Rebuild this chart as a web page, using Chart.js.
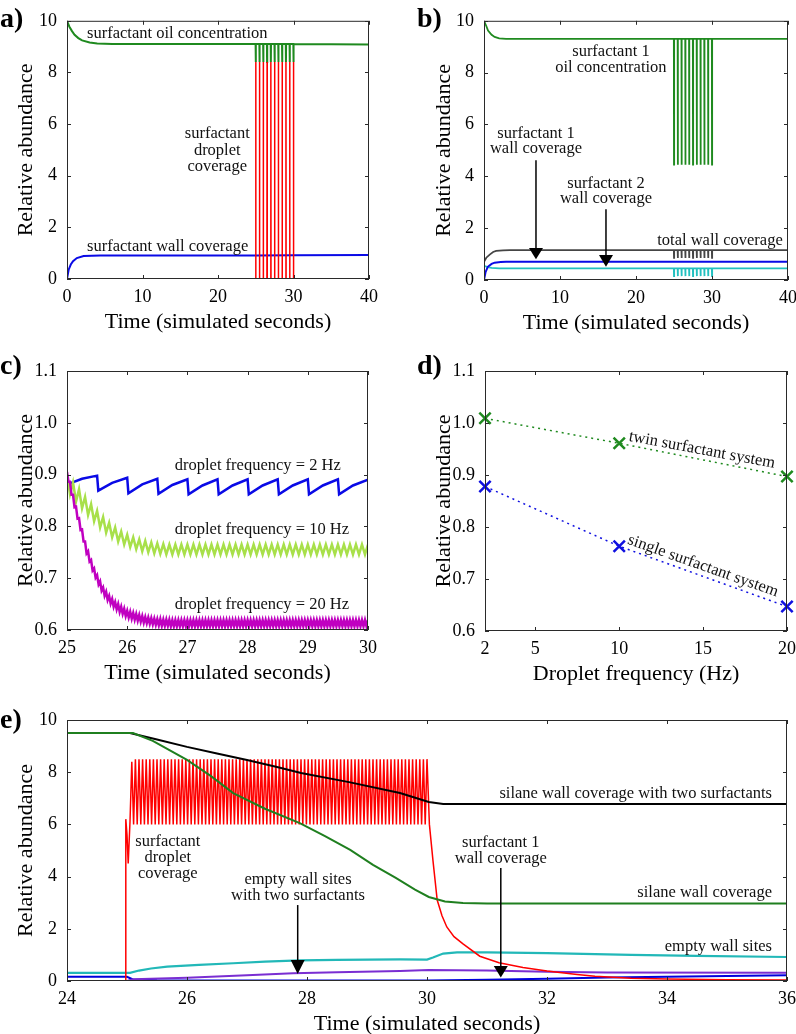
<!DOCTYPE html>
<html lang="en">
<head>
<meta charset="UTF-8">
<title>Surfactant coverage panels</title>
<script src="https://cdn.jsdelivr.net/npm/chart.js"></script>
<style>
  body { margin:0; width:796px; height:1034px; overflow:hidden; background:#fff; position:relative; }
  canvas { position:absolute; }
  .tag { position:absolute; font:bold 28px/28px "Liberation Serif", serif; color:#000; }
</style>
</head>
<body>
<canvas id="pa" width="400" height="339" style="left:0;top:0"></canvas>
<canvas id="pb" width="390" height="340" style="left:418px;top:0"></canvas>
<canvas id="pc" width="400" height="350" style="left:0;top:340px"></canvas>
<canvas id="pd" width="390" height="351" style="left:418px;top:340px"></canvas>
<canvas id="pe" width="808" height="351" style="left:0;top:690px"></canvas>
<div class="tag" style="left:0;top:4px">a)</div>
<div class="tag" style="left:417px;top:4px">b)</div>
<div class="tag" style="left:0;top:351px">c)</div>
<div class="tag" style="left:417px;top:351px">d)</div>
<div class="tag" style="left:0;top:705px">e)</div>
<script>
// ---- tick values ----
const ticks40 = [0, 10, 20, 30, 40];
const ticks10 = [0, 2, 4, 6, 8, 10];
const cTicksX = [25, 26, 27, 28, 29, 30];
const fracTicks = [0.6, 0.7, 0.8, 0.9, 1.0, 1.1];
const dTicksX = [2, 5, 10, 15, 20];
const eTicksX = [24, 26, 28, 30, 32, 34, 36];

// ---- a) single surfactant ----
const aOil = [[0,10],[0.3,9.78],[0.66,9.6],[1,9.46],[1.5,9.33],[2,9.24],[3,9.16],[4,9.12],[6,9.1],
  [24.98,9.1],[25,8.4],[25.02,9.1],[25.48,9.1],[25.5,8.4],[25.52,9.1],
  [25.98,9.1],[26,8.4],[26.02,9.1],[26.48,9.1],[26.5,8.4],[26.52,9.1],
  [26.98,9.1],[27,8.4],[27.02,9.1],[27.48,9.1],[27.5,8.4],[27.52,9.1],
  [27.98,9.1],[28,8.4],[28.02,9.1],[28.48,9.1],[28.5,8.4],[28.52,9.1],
  [28.98,9.1],[29,8.4],[29.02,9.1],[29.48,9.1],[29.5,8.4],[29.52,9.1],
  [29.98,9.1],[30,8.4],[30.02,9.1],[40,9.08]];
const aDrop = [[0,0],
  [24.98,0],[25,8.4],[25.02,0],[25.48,0],[25.5,8.4],[25.52,0],
  [25.98,0],[26,8.4],[26.02,0],[26.48,0],[26.5,8.4],[26.52,0],
  [26.98,0],[27,8.4],[27.02,0],[27.48,0],[27.5,8.4],[27.52,0],
  [27.98,0],[28,8.4],[28.02,0],[28.48,0],[28.5,8.4],[28.52,0],
  [28.98,0],[29,8.4],[29.02,0],[29.48,0],[29.5,8.4],[29.52,0],
  [29.98,0],[30,8.4],[30.02,0],[40,0]];
const aWall = [[0,0],[0.22,0.36],[0.5,0.56],[0.8,0.69],[1.3,0.81],[2.2,0.89],[4.4,0.91],[25,0.91],[30,0.92],[40,0.93]];

// ---- b) twin surfactant ----
const bOil = [[0,10],[0.3,9.8],[0.53,9.62],[1,9.46],[1.4,9.38],[2,9.32],[2.9,9.3],
  [24.98,9.3],[25,4.45],[25.02,9.3],[25.48,9.3],[25.5,4.45],[25.52,9.3],
  [25.98,9.3],[26,4.45],[26.02,9.3],[26.48,9.3],[26.5,4.45],[26.52,9.3],
  [26.98,9.3],[27,4.45],[27.02,9.3],[27.48,9.3],[27.5,4.45],[27.52,9.3],
  [27.98,9.3],[28,4.45],[28.02,9.3],[28.48,9.3],[28.5,4.45],[28.52,9.3],
  [28.98,9.3],[29,4.45],[29.02,9.3],[29.48,9.3],[29.5,4.45],[29.52,9.3],
  [29.98,9.3],[30,4.45],[30.02,9.3],[40,9.3]];
const bTotal = [[0,0.7],[0.3,0.86],[0.75,0.98],[1.2,1.08],[1.6,1.12],[2.5,1.14],[3.4,1.15],
  [24.98,1.15],[25,0.85],[25.02,1.15],[25.48,1.15],[25.5,0.85],[25.52,1.15],
  [25.98,1.15],[26,0.85],[26.02,1.15],[26.48,1.15],[26.5,0.85],[26.52,1.15],
  [26.98,1.15],[27,0.85],[27.02,1.15],[27.48,1.15],[27.5,0.85],[27.52,1.15],
  [27.98,1.15],[28,0.85],[28.02,1.15],[28.48,1.15],[28.5,0.85],[28.52,1.15],
  [28.98,1.15],[29,0.85],[29.02,1.15],[29.48,1.15],[29.5,0.85],[29.52,1.15],
  [29.98,1.15],[30,0.85],[30.02,1.15],[40,1.15]];
const bSurf1 = [[0,0],[0.2,0.3],[0.5,0.51],[1,0.62],[1.4,0.67],[2.2,0.69],[2.9,0.7],[40,0.7]];
const bSurf2 = [[0,0.55],[0.5,0.5],[1,0.47],[2,0.45],
  [24.98,0.45],[25,0.15],[25.02,0.45],[25.48,0.45],[25.5,0.15],[25.52,0.45],
  [25.98,0.45],[26,0.15],[26.02,0.45],[26.48,0.45],[26.5,0.15],[26.52,0.45],
  [26.98,0.45],[27,0.15],[27.02,0.45],[27.48,0.45],[27.5,0.15],[27.52,0.45],
  [27.98,0.45],[28,0.15],[28.02,0.45],[28.48,0.45],[28.5,0.15],[28.52,0.45],
  [28.98,0.45],[29,0.15],[29.02,0.45],[29.48,0.45],[29.5,0.15],[29.52,0.45],
  [29.98,0.45],[30,0.15],[30.02,0.45],[40,0.45]];

// ---- c) droplet frequency ----
const cHz2 = [[25.05,0.883],[25.25,0.892],[25.5,0.898],[25.52,0.869],[25.75,0.884],[26,0.894],[26.02,0.864],
  [26.25,0.881],[26.5,0.892],[26.52,0.863],[26.75,0.880],[27,0.891],[27.02,0.862],[27.25,0.879],
  [27.5,0.891],[27.52,0.862],[27.75,0.879],[28,0.891],[28.02,0.862],[28.25,0.879],[28.5,0.891],
  [28.52,0.862],[28.75,0.879],[29,0.891],[29.02,0.862],[29.25,0.879],[29.5,0.891],[29.52,0.862],
  [29.75,0.879],[30,0.890]];
const cHz10 = [[25,0.9],[25.05,0.862],[25.1,0.885],[25.15,0.848],[25.2,0.872],[25.25,0.835],[25.3,0.857],
  [25.35,0.822],[25.4,0.843],[25.45,0.81],[25.5,0.83],[25.55,0.798],[25.6,0.818],[25.65,0.788],
  [25.7,0.807],[25.75,0.779],[25.8,0.798],[25.85,0.771],[25.9,0.79],[25.95,0.765],[26,0.784],
  [26.05,0.76],[26.1,0.779],[26.15,0.756],[26.2,0.775],[26.25,0.752],[26.3,0.772],[26.35,0.75],
  [26.4,0.769],[26.45,0.748],[26.5,0.767],[26.55,0.747],[26.6,0.766],[26.65,0.746],[26.7,0.765],
  [26.75,0.746],[26.8,0.765],[26.85,0.746],[26.9,0.765],[26.95,0.746],[27,0.765],
  [27.05,0.746],[27.1,0.765],[27.15,0.746],[27.2,0.765],[27.25,0.746],[27.3,0.765],[27.35,0.746],[27.4,0.765],[27.45,0.746],[27.5,0.765],
  [27.55,0.746],[27.6,0.765],[27.65,0.746],[27.7,0.765],[27.75,0.746],[27.8,0.765],[27.85,0.746],[27.9,0.765],[27.95,0.746],[28,0.765],
  [28.05,0.746],[28.1,0.765],[28.15,0.746],[28.2,0.765],[28.25,0.746],[28.3,0.765],[28.35,0.746],[28.4,0.765],[28.45,0.746],[28.5,0.765],
  [28.55,0.746],[28.6,0.765],[28.65,0.746],[28.7,0.765],[28.75,0.746],[28.8,0.765],[28.85,0.746],[28.9,0.765],[28.95,0.746],[29,0.765],
  [29.05,0.746],[29.1,0.765],[29.15,0.746],[29.2,0.765],[29.25,0.746],[29.3,0.765],[29.35,0.746],[29.4,0.765],[29.45,0.746],[29.5,0.765],
  [29.55,0.746],[29.6,0.765],[29.65,0.746],[29.7,0.765],[29.75,0.746],[29.8,0.765],[29.85,0.746],[29.9,0.765],[29.95,0.746],[30,0.765]];
const cHz20 = [[25,0.905],[25.025,0.886],[25.05,0.886],[25.075,0.861],[25.1,0.861],[25.125,0.837],[25.15,0.838],
  [25.175,0.815],[25.2,0.816],[25.225,0.793],[25.25,0.794],[25.275,0.771],[25.3,0.771],[25.325,0.748],
  [25.35,0.752],[25.375,0.732],[25.4,0.735],[25.425,0.715],[25.45,0.719],[25.475,0.701],[25.5,0.706],
  [25.525,0.688],[25.55,0.694],[25.575,0.676],[25.6,0.682],[25.625,0.666],[25.65,0.674],[25.675,0.658],
  [25.7,0.666],[25.725,0.651],[25.75,0.66],[25.775,0.645],[25.8,0.654],[25.825,0.64],[25.85,0.65],
  [25.875,0.635],[25.9,0.645],[25.925,0.631],[25.95,0.641],[25.975,0.627],[26,0.637],[26.025,0.624],
  [26.05,0.635],[26.075,0.622],[26.1,0.633],[26.125,0.62],[26.15,0.631],[26.175,0.618],[26.2,0.629],
  [26.225,0.616],[26.25,0.627],[26.275,0.614],[26.3,0.625],[26.325,0.613],[26.35,0.624],[26.375,0.612],
  [26.4,0.623],[26.425,0.611],[26.45,0.622],[26.475,0.61],[26.5,0.621],[26.525,0.609],[26.55,0.621],
  [26.575,0.608],[26.6,0.62],[26.625,0.608],[26.65,0.62],[26.675,0.608],[26.7,0.62],[26.725,0.607],
  [26.75,0.619],[26.775,0.607],[26.8,0.619],[26.825,0.607],[26.85,0.619],[26.875,0.607],[26.9,0.619],
  [26.925,0.607],[26.95,0.619],[26.975,0.607],[27,0.619],
  [27.025,0.607],[27.05,0.619],[27.075,0.607],[27.1,0.619],[27.125,0.607],[27.15,0.619],[27.175,0.607],[27.2,0.619],
  [27.225,0.607],[27.25,0.619],[27.275,0.607],[27.3,0.619],[27.325,0.607],[27.35,0.619],[27.375,0.607],[27.4,0.619],
  [27.425,0.607],[27.45,0.619],[27.475,0.607],[27.5,0.619],[27.525,0.607],[27.55,0.619],[27.575,0.607],[27.6,0.619],
  [27.625,0.607],[27.65,0.619],[27.675,0.607],[27.7,0.619],[27.725,0.607],[27.75,0.619],[27.775,0.607],[27.8,0.619],
  [27.825,0.607],[27.85,0.619],[27.875,0.607],[27.9,0.619],[27.925,0.607],[27.95,0.619],[27.975,0.607],[28,0.619],
  [28.025,0.607],[28.05,0.619],[28.075,0.607],[28.1,0.619],[28.125,0.607],[28.15,0.619],[28.175,0.607],[28.2,0.619],
  [28.225,0.607],[28.25,0.619],[28.275,0.607],[28.3,0.619],[28.325,0.607],[28.35,0.619],[28.375,0.607],[28.4,0.619],
  [28.425,0.607],[28.45,0.619],[28.475,0.607],[28.5,0.619],[28.525,0.607],[28.55,0.619],[28.575,0.607],[28.6,0.619],
  [28.625,0.607],[28.65,0.619],[28.675,0.607],[28.7,0.619],[28.725,0.607],[28.75,0.619],[28.775,0.607],[28.8,0.619],
  [28.825,0.607],[28.85,0.619],[28.875,0.607],[28.9,0.619],[28.925,0.607],[28.95,0.619],[28.975,0.607],[29,0.619],
  [29.025,0.607],[29.05,0.619],[29.075,0.607],[29.1,0.619],[29.125,0.607],[29.15,0.619],[29.175,0.607],[29.2,0.619],
  [29.225,0.607],[29.25,0.619],[29.275,0.607],[29.3,0.619],[29.325,0.607],[29.35,0.619],[29.375,0.607],[29.4,0.619],
  [29.425,0.607],[29.45,0.619],[29.475,0.607],[29.5,0.619],[29.525,0.607],[29.55,0.619],[29.575,0.607],[29.6,0.619],
  [29.625,0.607],[29.65,0.619],[29.675,0.607],[29.7,0.619],[29.725,0.607],[29.75,0.619],[29.775,0.607],[29.8,0.619],
  [29.825,0.607],[29.85,0.619],[29.875,0.607],[29.9,0.619],[29.925,0.607],[29.95,0.619],[29.975,0.607],[30,0.619]];

// ---- d) steady-state wall coverage vs frequency ----
const dFreq = [2, 10, 20];
const dTwin = [1.009, 0.961, 0.897];
const dSingle = [0.878, 0.763, 0.647];

// ---- e) silane + two surfactants ----
const eRed = [[24,0],[24.97,0],[24.98,6.2],[25,5.6],[25.02,4.5],[25.05,6.1],[25.08,8.4],
  [25.11,6],[25.14,8.5],[25.17,6],[25.2,8.5],[25.23,6],[25.26,8.5],[25.29,6],[25.32,8.5],[25.35,6],[25.38,8.5],
  [25.41,6],[25.44,8.5],[25.47,6],[25.5,8.5],[25.53,6],[25.56,8.5],[25.59,6],[25.62,8.5],[25.65,6],[25.68,8.5],
  [25.71,6],[25.74,8.5],[25.77,6],[25.8,8.5],[25.83,6],[25.86,8.5],[25.89,6],[25.92,8.5],[25.95,6],[25.98,8.5],
  [26.01,6],[26.04,8.5],[26.07,6],[26.1,8.5],[26.13,6],[26.16,8.5],[26.19,6],[26.22,8.5],[26.25,6],[26.28,8.5],
  [26.31,6],[26.34,8.5],[26.37,6],[26.4,8.5],[26.43,6],[26.46,8.5],[26.49,6],[26.52,8.5],[26.55,6],[26.58,8.5],
  [26.61,6],[26.64,8.5],[26.67,6],[26.7,8.5],[26.73,6],[26.76,8.5],[26.79,6],[26.82,8.5],[26.85,6],[26.88,8.5],
  [26.91,6],[26.94,8.5],[26.97,6],[27,8.5],[27.03,6],[27.06,8.5],[27.09,6],[27.12,8.5],[27.15,6],[27.18,8.5],
  [27.21,6],[27.24,8.5],[27.27,6],[27.3,8.5],[27.33,6],[27.36,8.5],[27.39,6],[27.42,8.5],[27.45,6],[27.48,8.5],
  [27.51,6],[27.54,8.5],[27.57,6],[27.6,8.5],[27.63,6],[27.66,8.5],[27.69,6],[27.72,8.5],[27.75,6],[27.78,8.5],
  [27.81,6],[27.84,8.5],[27.87,6],[27.9,8.5],[27.93,6],[27.96,8.5],[27.99,6],[28.02,8.5],[28.05,6],[28.08,8.5],
  [28.11,6],[28.14,8.5],[28.17,6],[28.2,8.5],[28.23,6],[28.26,8.5],[28.29,6],[28.32,8.5],[28.35,6],[28.38,8.5],
  [28.41,6],[28.44,8.5],[28.47,6],[28.5,8.5],[28.53,6],[28.56,8.5],[28.59,6],[28.62,8.5],[28.65,6],[28.68,8.5],
  [28.71,6],[28.74,8.5],[28.77,6],[28.8,8.5],[28.83,6],[28.86,8.5],[28.89,6],[28.92,8.5],[28.95,6],[28.98,8.5],
  [29.01,6],[29.04,8.5],[29.07,6],[29.1,8.5],[29.13,6],[29.16,8.5],[29.19,6],[29.22,8.5],[29.25,6],[29.28,8.5],
  [29.31,6],[29.34,8.5],[29.37,6],[29.4,8.5],[29.43,6],[29.46,8.5],[29.49,6],[29.52,8.5],[29.55,6],[29.58,8.5],
  [29.61,6],[29.64,8.5],[29.67,6],[29.7,8.5],[29.73,6],[29.76,8.5],[29.79,6],[29.82,8.5],[29.85,6],[29.88,8.5],
  [29.91,6],[29.94,8.5],[29.97,6],[30,8.5],
  [30.04,6],[30.1,4.6],[30.17,3.1],[30.25,2.5],[30.33,2.07],[30.45,1.7],[30.6,1.42],[30.88,0.95],
  [31.2,0.7],[31.6,0.52],[32,0.38],[32.5,0.25],[32.8,0.18],[33.4,0.11],[34,0.08],[35,0.05],[36,0.04]];
const eSilaneTwo = [[24,9.5],[25.05,9.5],[25.5,9.25],[26,8.97],[26.5,8.72],[27,8.47],[27.5,8.2],[27.9,7.97],
  [28.7,7.62],[29.55,7.2],[30.03,6.86],[30.27,6.78],[31,6.78],[36,6.78]];
const eSilane = [[24,9.5],[25.1,9.5],[25.43,9.2],[26,8.47],[26.4,7.85],[26.77,7.2],[27.3,6.6],[27.88,6.05],
  [28.3,5.55],[28.72,5.02],[29.1,4.45],[29.48,3.95],[29.8,3.5],[30.03,3.22],[30.3,3.05],[30.6,2.99],[31,2.97],[36,2.97]];
const eEmpty = [[24,0.31],[25.05,0.31],[25.2,0.4],[25.4,0.48],[25.67,0.55],[26.2,0.62],[26.77,0.68],[27.3,0.74],
  [27.88,0.79],[28.5,0.81],[29.55,0.83],[30,0.82],[30.1,0.9],[30.27,1.05],[30.5,1.1],[31,1.1],[32,1.07],
  [33.4,1.0],[34.5,0.96],[36,0.92]];
const eEmptyTwo = [[24,0],[25,0],[25.1,0.07],[26,0.12],[27,0.22],[27.77,0.3],[28.5,0.34],[29.55,0.38],[30.03,0.42],
  [30.5,0.41],[31,0.4],[32,0.35],[33,0.33],[36,0.32]];
const eSurf1 = [[24,0.16],[25,0.16],[25.1,0.06],[25.5,0.03],[30,0.02],[31,0.05],[32,0.09],[33,0.13],[34,0.16],[35,0.19],[36,0.22]];

Chart.defaults.font.family = '"Liberation Serif", "Times New Roman", serif';
Chart.defaults.color = '#000';

// frame with inward ticks + text/arrow annotations (positions in data units)
const notes = {
  id: 'notes',
  afterDraw(chart, args, o) {
    const {ctx, chartArea: a} = chart;
    const sx = chart.scales.x, sy = chart.scales.y;
    ctx.save();
    ctx.strokeStyle = '#2a2a2a';
    ctx.lineWidth = 1;
    ctx.strokeRect(a.left + 0.5, a.top + 0.5, a.width - 1, a.height - 1);
    ctx.beginPath();
    sx.ticks.forEach(t => {
      const p = Math.round(sx.getPixelForValue(t.value)) + 0.5;
      ctx.moveTo(p, a.bottom); ctx.lineTo(p, a.bottom - 4);
      ctx.moveTo(p, a.top); ctx.lineTo(p, a.top + 4);
    });
    sy.ticks.forEach(t => {
      const p = Math.round(sy.getPixelForValue(t.value)) + 0.5;
      ctx.moveTo(a.left, p); ctx.lineTo(a.left + 4, p);
      ctx.moveTo(a.right, p); ctx.lineTo(a.right - 4, p);
    });
    ctx.stroke();

    (o.arrows || []).forEach(ar => {
      const x = sx.getPixelForValue(ar.x);
      const y0 = sy.getPixelForValue(ar.from);
      const yb = sy.getPixelForValue(ar.head);
      const yt = sy.getPixelForValue(ar.to);
      ctx.strokeStyle = '#000';
      ctx.lineWidth = 1.5;
      ctx.beginPath(); ctx.moveTo(x, y0); ctx.lineTo(x, yb); ctx.stroke();
      ctx.fillStyle = '#000';
      ctx.beginPath(); ctx.moveTo(x - 7, yb); ctx.lineTo(x + 7, yb); ctx.lineTo(x, yt); ctx.closePath(); ctx.fill();
    });

    (o.texts || []).forEach(t => {
      ctx.save();
      ctx.translate(sx.getPixelForValue(t.x), sy.getPixelForValue(t.y));
      if (t.rot) ctx.rotate(t.rot * Math.PI / 180);
      ctx.font = '16.5px "Liberation Serif"';
      ctx.fillStyle = '#111';
      ctx.textAlign = t.align || 'center';
      ctx.textBaseline = 'middle';
      ctx.fillText(t.s, 0, 0);
      ctx.restore();
    });
    ctx.restore();
  }
};

function line(data, color, width) {
  return { data: data, borderColor: color, borderWidth: width || 2, pointRadius: 0, tension: 0, fill: false };
}

function axis(tickVals, width, height, titleText, fmt, isY) {
  return {
    type: 'linear',
    min: tickVals[0],
    max: tickVals[tickVals.length - 1],
    afterBuildTicks: s => { s.ticks = tickVals.map(v => ({ value: v })); },
    afterFit: s => { if (isY) s.width = width; else s.height = height; },
    grid: { display: false, drawTicks: false },
    border: { display: false },
    ticks: { font: { size: 18 }, color: '#000', padding: isY ? 10 : 7, autoSkip: false, maxRotation: 0,
             callback: fmt || (v => String(v)) },
    title: { display: true, text: titleText, color: '#000', font: { size: 22, lineHeight: 1.15 },
             padding: isY ? { top: 14, bottom: 0 } : { top: 0, bottom: 4 } }
  };
}

function panel(id, o) {
  new Chart(document.getElementById(id), {
    type: 'line',
    data: { datasets: o.sets },
    options: {
      responsive: false,
      animation: false,
      events: [],
      layout: { padding: { top: o.top, right: o.right, left: 0, bottom: 0 } },
      plugins: { legend: { display: false }, tooltip: { enabled: false }, notes: o.notes },
      scales: {
        x: axis(o.xt, 0, 60, o.xTitle, o.xf, false),
        y: axis(o.yt, o.yw, 0, 'Relative abundance', o.yf, true)
      }
    },
    plugins: [notes]
  });
}

const timeTitle = 'Time (simulated seconds)';
const oneDec = v => v.toFixed(1);

panel('pa', {
  top: 20, right: 31, yw: 67, xt: ticks40, yt: ticks10, xTitle: timeTitle,
  sets: [line(aDrop, '#ff0000', 1.5), line(aOil, '#1f8a1f'), line(aWall, '#0a0ae6')],
  notes: { texts: [
    { x: 2.65, y: 9.5, s: 'surfactant oil concentration', align: 'left' },
    { x: 19.9, y: 5.64, s: 'surfactant' },
    { x: 19.9, y: 4.98, s: 'droplet' },
    { x: 19.9, y: 4.36, s: 'coverage' },
    { x: 2.65, y: 1.24, s: 'surfactant wall coverage', align: 'left' }
  ] }
});

panel('pb', {
  top: 20, right: 20, yw: 66, xt: ticks40, yt: ticks10, xTitle: timeTitle,
  sets: [line(bOil, '#1f8a1f', 1.8), line(bTotal, '#454545', 1.8), line(bSurf1, '#0a0ae6'), line(bSurf2, '#22c0c0', 1.8)],
  notes: {
    texts: [
      { x: 16.7, y: 8.81, s: 'surfactant 1' },
      { x: 16.7, y: 8.19, s: 'oil concentration' },
      { x: 6.84, y: 5.65, s: 'surfactant 1' },
      { x: 6.84, y: 5.08, s: 'wall coverage' },
      { x: 16.05, y: 3.73, s: 'surfactant 2' },
      { x: 16.05, y: 3.12, s: 'wall coverage' },
      { x: 31.05, y: 1.5, s: 'total wall coverage' }
    ],
    arrows: [
      { x: 6.84, from: 4.62, head: 1.23, to: 0.8 },
      { x: 16.05, from: 2.73, head: 0.96, to: 0.51 }
    ]
  }
});

panel('pc', {
  top: 31, right: 32, yw: 67, xt: cTicksX, yt: fracTicks, xTitle: timeTitle, yf: oneDec,
  sets: [line(cHz20, '#c000c0', 2.5), line(cHz10, '#a8e04a', 2.5), line(cHz2, '#0a0ae6', 2.5)],
  notes: { texts: [
    { x: 26.79, y: 0.917, s: 'droplet frequency = 2 Hz', align: 'left' },
    { x: 26.79, y: 0.793, s: 'droplet frequency = 10 Hz', align: 'left' },
    { x: 26.79, y: 0.648, s: 'droplet frequency = 20 Hz', align: 'left' }
  ] }
});

function marks(ys, color) {
  return {
    data: dFreq.map((f, i) => ({ x: f, y: ys[i] })),
    borderColor: color, borderWidth: 1.5, borderDash: [2, 4], tension: 0, fill: false, clip: false,
    pointStyle: 'crossRot', pointRadius: 8, pointBorderWidth: 2.5, pointBorderColor: color, pointBackgroundColor: color
  };
}

panel('pd', {
  top: 31, right: 21, yw: 67, xt: dTicksX, yt: fracTicks, xTitle: 'Droplet frequency (Hz)', yf: oneDec,
  sets: [marks(dTwin, '#1f8a1f'), marks(dSingle, '#1010e0')],
  notes: { texts: [
    { x: 14.93, y: 0.948, s: 'twin surfactant system', rot: 10.5 },
    { x: 14.99, y: 0.725, s: 'single surfactant system', rot: 19.5 }
  ] }
});

panel('pe', {
  top: 30, right: 21, yw: 67, xt: eTicksX, yt: ticks10, xTitle: timeTitle,
  sets: [line(eSilane, '#1f7f1f'), line(eSilaneTwo, '#000000'), line(eRed, '#ff0000', 1.5),
         line(eEmpty, '#22b8b8', 2.2), line(eEmptyTwo, '#7a2ed2'), line(eSurf1, '#0000dd')],
  notes: {
    texts: [
      { x: 25.68, y: 5.33, s: 'surfactant' },
      { x: 25.68, y: 4.71, s: 'droplet' },
      { x: 25.68, y: 4.10, s: 'coverage' },
      { x: 27.85, y: 3.87, s: 'empty wall sites' },
      { x: 27.85, y: 3.26, s: 'with two surfactants' },
      { x: 31.23, y: 5.29, s: 'surfactant 1' },
      { x: 31.23, y: 4.67, s: 'wall coverage' },
      { x: 35.75, y: 7.16, s: 'silane wall coverage with two surfactants', align: 'right' },
      { x: 35.75, y: 3.37, s: 'silane wall coverage', align: 'right' },
      { x: 35.75, y: 1.30, s: 'empty wall sites', align: 'right' }
    ],
    arrows: [
      { x: 27.845, from: 2.91, head: 0.8, to: 0.27 },
      { x: 31.23, from: 4.33, head: 0.57, to: 0.13 }
    ]
  }
});
</script>
</body>
</html>
